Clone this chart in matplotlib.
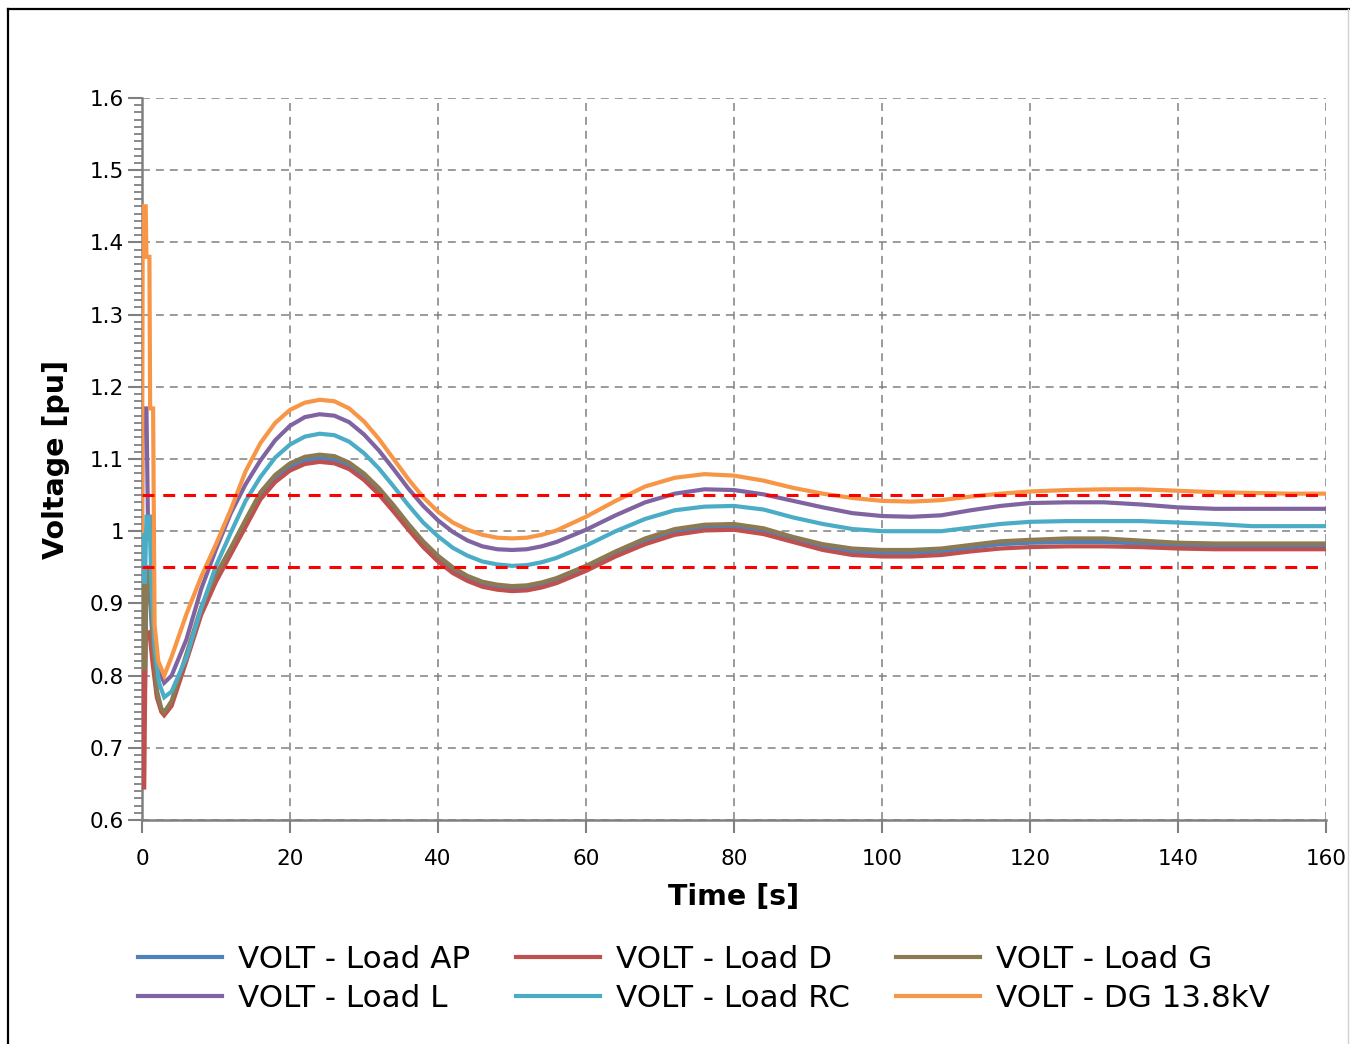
import numpy as np
import matplotlib.pyplot as plt
from matplotlib.lines import Line2D
from matplotlib.ticker import MultipleLocator

# fast transient right after the disturbance (per series, t < 3 s)
t_ap = [0, 0.05, 0.4, 0.6, 1.0, 1.4, 2.0, 2.6]
v_ap = [1.0, 0.78, 0.78, 0.93, 0.93, 0.85, 0.775, 0.752]
t_d = [0, 0.05, 0.3, 0.5, 1.0, 1.4, 2.0, 2.6]
v_d = [1.0, 0.645, 0.645, 0.86, 0.86, 0.82, 0.77, 0.75]
t_g = [0, 0.05, 0.4, 0.6, 1.0, 1.4, 2.0, 2.6]
v_g = [1.0, 0.81, 0.81, 0.95, 0.95, 0.86, 0.78, 0.755]
t_l = [0, 0.1, 0.6, 0.8, 1.2, 1.6, 2.2]
v_l = [1.0, 1.17, 1.17, 1.02, 1.02, 0.86, 0.81]
t_rc = [0, 0.1, 0.4, 0.6, 1.0, 1.3, 1.7, 2.3]
v_rc = [1.0, 0.93, 0.93, 1.02, 1.02, 0.92, 0.84, 0.79]
t_dg = [0, 0.1, 0.5, 0.6, 1.0, 1.1, 1.5, 1.7, 2.2]
v_dg = [1.0, 1.45, 1.45, 1.38, 1.38, 1.17, 1.17, 0.87, 0.82]

# slow oscillation, common time base
time = [3, 4, 6, 8, 10, 12, 14, 16, 18, 20, 22, 24, 26, 28, 30, 32, 34, 36, 38, 40,
        42, 44, 46, 48, 50, 52, 54, 56, 60, 64, 68, 72, 76, 80, 84, 88, 92, 96, 100,
        104, 108, 112, 116, 120, 125, 130, 135, 140, 145, 150, 155, 160]

load_ap = [0.750, 0.762, 0.826, 0.890, 0.936, 0.973, 1.011, 1.049, 1.073, 1.089,
           1.098, 1.101, 1.099, 1.091, 1.076, 1.056, 1.032, 1.006, 0.982, 0.962,
           0.946, 0.934, 0.926, 0.922, 0.920, 0.921, 0.925, 0.931, 0.948, 0.968,
           0.986, 0.999, 1.005, 1.006, 1.000, 0.988, 0.978, 0.971, 0.970, 0.970,
           0.972, 0.977, 0.982, 0.984, 0.985, 0.985, 0.983, 0.980, 0.979, 0.979,
           0.979, 0.979]
load_d = [0.745, 0.758, 0.820, 0.884, 0.930, 0.968, 1.006, 1.044, 1.068, 1.084,
          1.093, 1.096, 1.094, 1.086, 1.071, 1.051, 1.027, 1.002, 0.978, 0.958,
          0.942, 0.931, 0.923, 0.919, 0.917, 0.918, 0.922, 0.928, 0.945, 0.965,
          0.982, 0.995, 1.001, 1.002, 0.996, 0.985, 0.974, 0.967, 0.965, 0.965,
          0.967, 0.972, 0.976, 0.978, 0.979, 0.979, 0.978, 0.976, 0.975, 0.975,
          0.975, 0.975]
load_g = [0.749, 0.765, 0.830, 0.895, 0.940, 0.977, 1.016, 1.054, 1.078, 1.094,
          1.103, 1.106, 1.104, 1.095, 1.080, 1.060, 1.036, 1.010, 0.986, 0.966,
          0.950, 0.938, 0.930, 0.926, 0.924, 0.925, 0.929, 0.935, 0.952, 0.972,
          0.990, 1.003, 1.009, 1.010, 1.004, 0.992, 0.982, 0.976, 0.974, 0.974,
          0.976, 0.981, 0.986, 0.988, 0.990, 0.990, 0.987, 0.984, 0.983, 0.983,
          0.983, 0.983]
load_l = [0.790, 0.800, 0.850, 0.920, 0.975, 1.025, 1.065, 1.098, 1.126, 1.146,
          1.158, 1.162, 1.160, 1.151, 1.134, 1.112, 1.086, 1.059, 1.035, 1.015,
          0.999, 0.987, 0.979, 0.975, 0.974, 0.975, 0.979, 0.985, 1.002, 1.022,
          1.040, 1.052, 1.058, 1.057, 1.051, 1.042, 1.033, 1.025, 1.021, 1.020,
          1.022, 1.029, 1.035, 1.039, 1.040, 1.040, 1.037, 1.033, 1.031, 1.031,
          1.031, 1.031]
load_rc = [0.770, 0.778, 0.825, 0.893, 0.952, 0.998, 1.042, 1.075, 1.102, 1.120,
           1.131, 1.135, 1.133, 1.124, 1.108, 1.087, 1.062, 1.036, 1.012, 0.993,
           0.977, 0.966, 0.958, 0.954, 0.952, 0.953, 0.957, 0.963, 0.980, 1.000,
           1.017, 1.029, 1.034, 1.035, 1.030, 1.019, 1.010, 1.003, 1.000, 1.000,
           1.000, 1.005, 1.010, 1.013, 1.014, 1.014, 1.014, 1.012, 1.010, 1.007,
           1.007, 1.007]
dg_138 = [0.800, 0.826, 0.885, 0.937, 0.982, 1.030, 1.083, 1.122, 1.150, 1.168,
          1.178, 1.182, 1.180, 1.170, 1.152, 1.128, 1.100, 1.072, 1.047, 1.027,
          1.012, 1.002, 0.995, 0.991, 0.990, 0.991, 0.995, 1.001, 1.020, 1.042,
          1.062, 1.074, 1.079, 1.077, 1.070, 1.060, 1.052, 1.046, 1.042, 1.041,
          1.043, 1.048, 1.052, 1.055, 1.057, 1.058, 1.058, 1.056, 1.054, 1.053,
          1.052, 1.052]

v_upper = 1.05
v_lower = 0.95

series = [
    ("VOLT - Load AP", t_ap, v_ap, load_ap, "#4F81BD"),
    ("VOLT - Load D", t_d, v_d, load_d, "#C0504D"),
    ("VOLT - Load G", t_g, v_g, load_g, "#8C7A52"),
    ("VOLT - Load L", t_l, v_l, load_l, "#8064A2"),
    ("VOLT - Load RC", t_rc, v_rc, load_rc, "#4BACC6"),
    ("VOLT - DG 13.8kV", t_dg, v_dg, dg_138, "#F79646"),
]

plt.rcParams['font.family'] = 'DejaVu Sans'
fig = plt.figure(figsize=(13.5, 10.44), dpi=100)
ax = fig.add_axes([142/1350, 1 - 820/1044, (1326 - 142)/1350, (820 - 98)/1044])

handles = {}
for name, t0, v0, v1, col in series:
    t = np.concatenate([t0, time])
    v = np.concatenate([v0, v1])
    ln, = ax.plot(t, v, color=col, lw=3.0, solid_joinstyle='miter', zorder=3)
    handles[name] = ln

# voltage band limits
for lim in (v_upper, v_lower):
    ax.axhline(lim, color='#FF0000', lw=2.2, linestyle=(0, (3.9, 2.9)), zorder=4)

ax.set_xlim(0, 160)
ax.set_ylim(0.6, 1.6)
ax.xaxis.set_major_locator(MultipleLocator(20))
ax.yaxis.set_minor_locator(MultipleLocator(0.01))
ax.set_yticks(np.arange(0.6, 1.61, 0.1))
ax.set_yticklabels(["0.6", "0.7", "0.8", "0.9", "1", "1.1", "1.2", "1.3", "1.4", "1.5", "1.6"])

ax.grid(True, which='major', color='#808080', lw=1.1, linestyle=(0, (5.2, 3.9)), zorder=1)
ax.set_axisbelow(True)

for s in ('top', 'right'):
    ax.spines[s].set_visible(False)
for s in ('left', 'bottom'):
    ax.spines[s].set_color('#808080')
    ax.spines[s].set_linewidth(1.8)

ax.tick_params(axis='both', which='major', color='#808080', width=1.5, labelsize=15.5,
               labelcolor='black')
ax.tick_params(axis='x', which='major', length=9, pad=12)
ax.tick_params(axis='y', which='major', length=10, pad=3)
ax.tick_params(axis='y', which='minor', length=6, width=1.3, color='#808080')
ax.tick_params(axis='x', which='minor', length=0)

ax.set_xlabel("Time [s]", fontsize=20.5, fontweight='bold', labelpad=10)
ax.set_ylabel("Voltage [pu]", fontsize=20.5, fontweight='bold', labelpad=14)

order = ["VOLT - Load AP", "VOLT - Load L", "VOLT - Load D", "VOLT - Load RC",
         "VOLT - Load G", "VOLT - DG 13.8kV"]
fig.legend([handles[k] for k in order], order, ncol=3, frameon=False,
           loc='upper left', bbox_to_anchor=(138/1350, 1 - 945/1044),
           borderpad=0, borderaxespad=0, fontsize=22.3, handlelength=2.7,
           handletextpad=0.52, columnspacing=1.5, labelspacing=0.32)

# outer frame
fig.add_artist(Line2D([7.5/1350, 7.5/1350], [0, 1 - 8.5/1044], color='black', lw=1.6,
                      transform=fig.transFigure))
fig.add_artist(Line2D([7.5/1350, 1], [1 - 8.5/1044, 1 - 8.5/1044], color='black', lw=1.6,
                      transform=fig.transFigure))
fig.add_artist(Line2D([1348/1350, 1348/1350], [0, 1 - 8.5/1044], color='#D0D0D0', lw=1.0,
                      transform=fig.transFigure))

fig.savefig("out.png", dpi=100)
